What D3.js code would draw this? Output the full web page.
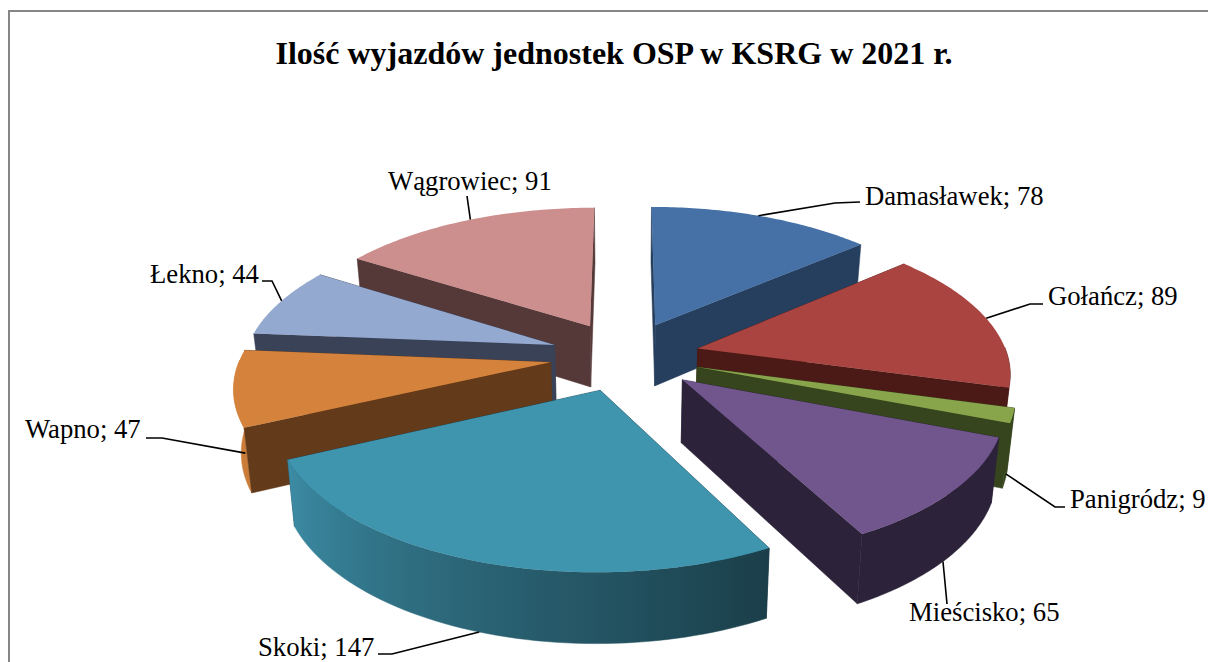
<!DOCTYPE html>
<html><head><meta charset="utf-8">
<script src="https://cdn.jsdelivr.net/npm/d3@7"></script>
<style>html,body{margin:0;background:#fff}svg{display:block}text{font-family:"Liberation Serif",serif;fill:#000}</style>
</head><body><svg id="c" width="1208" height="662"></svg>
<script>
const categories=["Damasławek","Gołańcz","Panigródz","Mieścisko","Skoki","Wapno","Łekno","Wągrowiec"];
const values=[78,89,9,65,147,47,44,91];
const topColors=["#4571a7","#a94441","#88a54b","#70568d","#3f94ae","#d5833c","#94a9d0","#cd8f8e"];
const wallColors=["#273f5e","#4b1a16","#36451e","#2c2239","#1b3f4c","#633a1a","#3a4258","#553939"];
const paintOrder=[7,0,6,1,5,2,3,4];
const title="Ilość wyjazdów jednostek OSP w KSRG w 2021 r.";
// layout of labels and leaders (separate from the data)
const labelPos=[[865,205],[1048,305],[1070,508],[909,621],[258,656],[25,438],[150,283],[388,190]];
const leaderFree=[[[860,202],[835,203]],[[1043,304],[1030,304]],[[1065,507],[1055,507]],[[947,604]],[[378,654],[392,654]],[[146,438],[162,438]],[[262,281],[272,281]],[[467,196]]];
const leaderFrac=[.48,.5,.5,.52,.5,.05,.52,.52];
const leaderH=[0,0,.9,1,1,.45,0,0];

const W=1208,H=662,CX=625,CY=356,R=310,EXPL=75,K=.465,D=2107,HT=62;
const svg=d3.select("#c");
svg.append("path").attr("d","M9,662V11H1208").attr("fill","none").attr("stroke","#868686").attr("stroke-width",2);
svg.append("text").attr("x",614).attr("y",64).attr("text-anchor","middle")
  .style("font-size","32px").style("font-weight","bold").text(title);

const pie=d3.pie().sort(null)(values);
const RAD=2*Math.PI;
function proj(X,Z,h){const s=D/(D-Z);
  const xs=CX+X*s, ys=CY+Z*K*s;
  return [CX+(xs-CX)*(1-h*.02), ys+h*HT*Math.pow(s,.7)];}
function pt(d,a,r,h){const m=(d.startAngle+d.endAngle)/2;
  const X=EXPL*Math.sin(m)+r*Math.sin(a), Z=-EXPL*Math.cos(m)-r*Math.cos(a);
  return proj(X,Z,h);}
const line=d3.line().curve(d3.curveLinear);
const shade=d3.scaleLinear().domain([90,111,152,200,245,270]).range([.42,.5,.42,.68,.95,1.02]);
const deg=d3.scaleLinear().domain([0,RAD]).range([0,360]);
const defs=svg.append("defs");

paintOrder.forEach(i=>{
  const d=pie[i],g=svg.append("g");
  const as=d3.range(0,61).map(t=>d.startAngle+(d.endAngle-d.startAngle)*t/60);
  const radial=(a)=>g.append("path").attr("d",line([pt(d,a,0,0),pt(d,a,R,0),pt(d,a,R,1),pt(d,a,0,1)])+"Z").attr("fill",wallColors[i]).attr("stroke",wallColors[i]).attr("stroke-width",.5);
  const sf=d.startAngle>Math.PI*1.2, ef=d.endAngle<Math.PI*.95;
  if(!sf)radial(d.startAngle);
  if(!ef)radial(d.endAngle);
  const front=as.filter(a=>Math.cos(a)<0.02);
  if(front.length>1){
    let fill=wallColors[i];
    if(i!==2&&i!==3){
      const c=d3.color(topColors[i]);
      const x0=pt(d,front[0],R,0)[0],x1=pt(d,front[front.length-1],R,0)[0];
      const gr=defs.append("linearGradient").attr("id","w"+i).attr("gradientUnits","userSpaceOnUse")
        .attr("x1",x0).attr("x2",x1).attr("y1",0).attr("y2",0);
      front.forEach(a=>{const f=shade(deg(a));
        gr.append("stop").attr("offset",(pt(d,a,R,0)[0]-x0)/(x1-x0))
          .attr("stop-color",d3.rgb(c.r*f,c.g*f,c.b*f).formatHex());});
      fill="url(#w"+i+")";
    }
    const up=front.map(a=>pt(d,a,R,0)),dn=front.map(a=>pt(d,a,R,1)).reverse();
    g.append("path").attr("d",line(up.concat(dn))+"Z").attr("fill",fill).attr("stroke",fill).attr("stroke-width",.5);
  }
  if(sf)radial(d.startAngle);
  if(ef)radial(d.endAngle);
  const top=[pt(d,d.startAngle,0,0)].concat(as.map(a=>pt(d,a,R,0)));
  g.append("path").attr("d",line(top)+"Z").attr("fill",topColors[i]);
});
categories.forEach((n,i)=>{
  const d=pie[i];
  const a=d.startAngle+(d.endAngle-d.startAngle)*leaderFrac[i];
  const p0=pt(d,a,R,leaderH[i]);
  svg.append("path").attr("d",line([...leaderFree[i],p0])).attr("fill","none").attr("stroke","#000").attr("stroke-width",1.6);
  const l=labelPos[i];
  svg.append("text").attr("x",l[0]).attr("y",l[1]).style("font-size","26.7px").text(n+"; "+values[i]);
});
</script></body></html>
